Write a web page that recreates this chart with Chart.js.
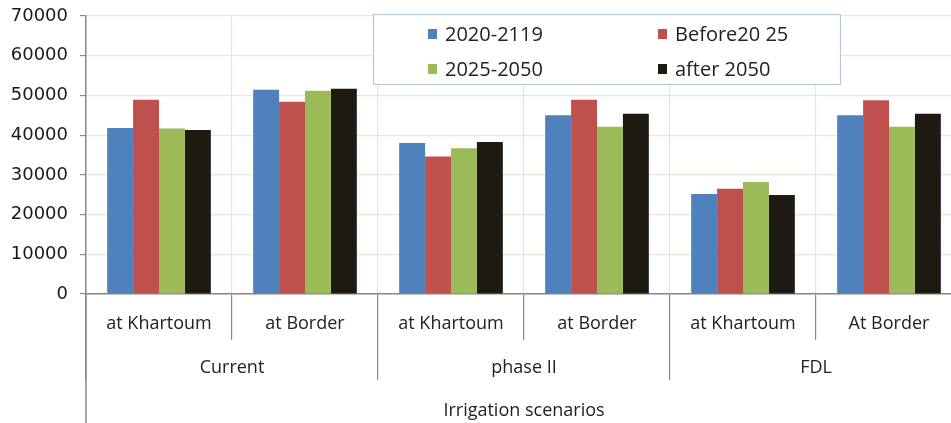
<!DOCTYPE html>
<html>
<head>
<meta charset="utf-8">
<script src="https://cdn.jsdelivr.net/npm/chart.js@4/dist/chart.umd.min.js"></script>
<style>
  html, body { margin: 0; padding: 0; background: #fff; overflow: hidden; }
  #wrap { position: relative; width: 962px; height: 423px; }
</style>
</head>
<body>
<div id="wrap"><canvas id="c"></canvas></div>
<script>
const categories = ['at Khartoum', 'at Border', 'at Khartoum', 'at Border', 'at Khartoum', 'At Border'];
const groups = ['Current', 'phase II', 'FDL'];
const seriesNames = ['2020-2119', 'Before20 25', '2025-2050', 'after 2050'];
const s2020_2119 = [41800, 51400, 38000, 45000, 25200, 45000];
const sBefore2025 = [48900, 48400, 34600, 48900, 26500, 48800];
const s2025_2050 = [41700, 51200, 36700, 42100, 28200, 42100];
const sAfter2050 = [41300, 51700, 38300, 45400, 24900, 45400];
const yTicks = [0, 10000, 20000, 30000, 40000, 50000, 60000, 70000];
const axisTitle = 'Irrigation scenarios';

const colors = ['#4f81bd', '#c0504d', '#9bbb59', '#1e1a12'];
const values = [s2020_2119, sBefore2025, s2025_2050, sAfter2050];

const legendPlugin = {
  id: 'boxLegend',
  afterDraw(chart) {
    const ctx = chart.ctx;
    ctx.save();
    ctx.fillStyle = '#ffffff';
    ctx.fillRect(373, 14, 467, 70);
    ctx.strokeStyle = '#b3c7df';
    ctx.lineWidth = 1.2;
    ctx.strokeRect(373.5, 14.5, 467, 70);
    const cols = [428, 658];
    const rows = [34, 69];
    ctx.font = '20px "Open Sans"';
    ctx.textBaseline = 'middle';
    ctx.textAlign = 'left';
    chart.data.datasets.forEach((ds, i) => {
      const x = cols[i % 2], y = rows[Math.floor(i / 2)];
      ctx.fillStyle = ds.backgroundColor;
      ctx.fillRect(x, y - 5, 9, 10);
      ctx.fillStyle = '#222';
      ctx.fillText(ds.label, x + 17, y + 1);
    });
    ctx.restore();
  }
};

const leftLinePlugin = {
  id: 'leftLine',
  afterDraw(chart) {
    const ctx = chart.ctx, a = chart.chartArea;
    ctx.save();
    ctx.strokeStyle = '#888';
    ctx.lineWidth = 1.5;
    ctx.beginPath();
    ctx.moveTo(a.left, a.bottom);
    ctx.lineTo(a.left, chart.height);
    ctx.stroke();
    ctx.restore();
  }
};

new Chart(document.getElementById('c'), {
  type: 'bar',
  data: {
    labels: categories,
    datasets: seriesNames.map((name, i) => ({
      label: name,
      data: values[i],
      backgroundColor: colors[i],
      borderWidth: 0,
      barPercentage: 1.0,
      categoryPercentage: 0.71,
      xAxisID: 'x',
      yAxisID: 'y'
    }))
  },
  options: {
    responsive: true,
    maintainAspectRatio: false,
    animation: false,
    layout: { padding: { top: 16, left: 0, right: 0, bottom: 0 } },
    plugins: { legend: { display: false }, tooltip: { enabled: false } },
    scales: {
      y: {
        min: 0, max: 70000,
        afterBuildTicks: (s) => { s.ticks = yTicks.map(v => ({ value: v })); },
        afterFit: (s) => { s.width = 86; s.paddingTop = 0; s.paddingBottom = 0; },
        grid: { color: '#e6e6dc', tickColor: '#888', tickLength: 6, lineWidth: 1.2 },
        border: { color: '#888', width: 1.5 },
        ticks: { padding: 12, color: '#1a1a1a', callback: (v) => String(v), font: { family: 'DejaVu Sans', size: 18 } }
      },
      x: {
        position: 'bottom',
        offset: true,
        afterFit: (s) => { s.height = 46; s.paddingLeft = 0; s.paddingRight = 0; },
        grid: { offset: true, color: '#e6e6dc', tickColor: '#888', tickLength: 46, lineWidth: 1.2 },
        border: { color: '#888', width: 1.5 },
        ticks: { padding: -27, color: '#222', maxRotation: 0, autoSkip: false, font: { family: 'Open Sans', size: 18 } }
      },
      x2: {
        type: 'category',
        position: 'bottom',
        labels: groups,
        offset: true,
        afterFit: (s) => { s.height = 83; s.paddingLeft = 0; s.paddingRight = 0; },
        grid: { offset: true, drawOnChartArea: false, color: '#888', tickColor: '#888', tickLength: 40, lineWidth: 1.2 },
        border: { display: false },
        ticks: { padding: -23, color: '#222', maxRotation: 0, autoSkip: false, font: { family: 'Open Sans', size: 18 } },
        title: { display: true, text: axisTitle, color: '#222', padding: { top: 0, bottom: 1 }, font: { family: 'Open Sans', size: 18 } }
      }
    }
  },
  plugins: [legendPlugin, leftLinePlugin]
});
</script>
</body>
</html>
